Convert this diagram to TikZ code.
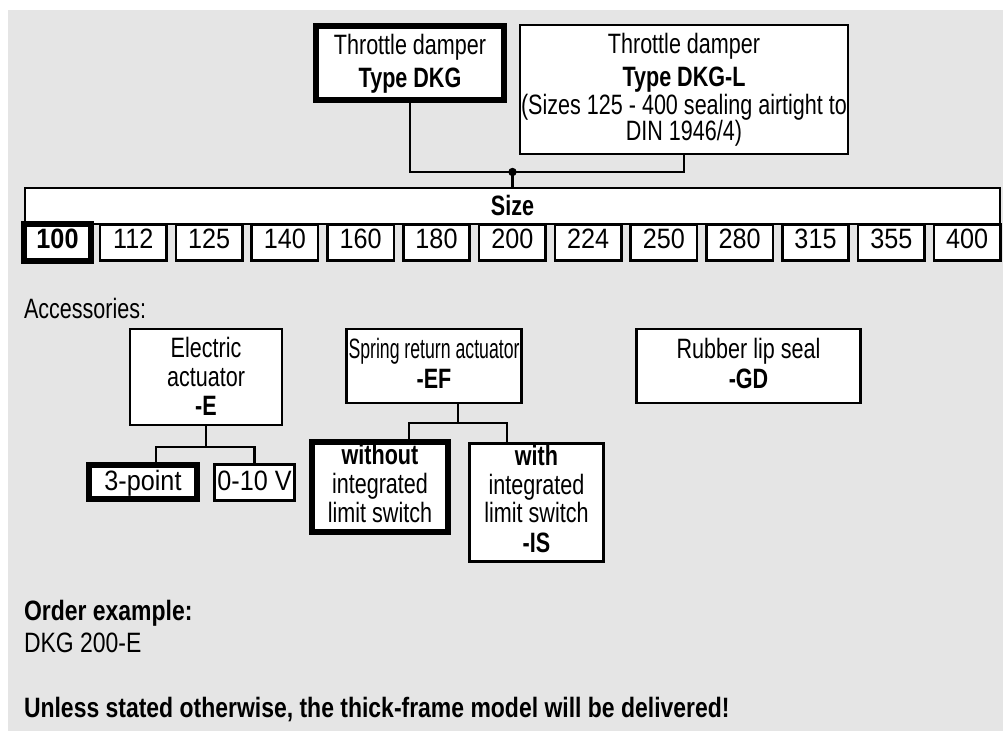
\documentclass[tikz,border=0pt]{standalone}
\usepackage{fontspec}
\setmainfont{Liberation Sans}[FakeStretch=0.77]
\newfontfamily\numfont{Liberation Sans}[FakeStretch=0.9]
\newfontfamily\notefont{Liberation Sans}[FakeStretch=0.82]
\definecolor{bggray}{RGB}{229,229,229}
\newcommand\ts{\rule{0pt}{21pt}}
\newcommand\bs[1]{\rule[-#1pt]{0pt}{#1pt}}
\begin{document}
\begin{tikzpicture}[x=1pt,y=-1pt,
  every node/.style={font=\fontsize{28}{28.7}\selectfont, inner sep=0pt, outer sep=0pt},
  thinbox/.style={draw, line width=2.6pt, fill=white, align=center},
  thickbox/.style={draw, line width=6pt, fill=white, align=center},
  numbox/.style={minimum width=66.4pt, minimum height=36.4pt, text height=21pt, text depth=9.4pt},
  conn/.style={draw, line width=2.6pt}]
\useasboundingbox (0,0) rectangle (1003,731);
\fill[bggray] (8,10) rectangle (1003,731);
% top boxes
\node[thickbox, minimum width=188pt, minimum height=74pt] (dkg) at (410,63)
  {\ts Throttle damper\\[4.3pt]\textbf{Type DKG}\bs{6}};
\node[thinbox, minimum width=328pt, minimum height=129pt] (dkgl) at (684,89.5)
  {\ts Throttle damper\\[4.3pt]\textbf{Type DKG-L}\\[-0.7pt](Sizes 125 - 400 sealing airtight to\\[-2.5pt]DIN 1946/4)\bs{4.8}};
% size row
\node[thinbox, minimum width=975pt, minimum height=36pt, text height=21pt, text depth=3pt] (size) at (512.5,206) {\textbf{Size}};
\node[thickbox, numbox] (s100) at (57.5,242.5) {\numfont\textbf{100}};
\foreach \v [count=\i] in {112,125,140,160,180,200,224,250,280,315,355,400}
  \node[thinbox, numbox] (s\v) at ({57.5+75.8*\i},242.5) {\numfont\v};
% connectors top
\coordinate (j) at (512.5,172);
\draw[conn] (dkg.south) |- (j) -| (dkgl.south);
\draw[conn] (j) -- (j |- size.north);
\fill (j) circle (4.2);
% accessories
\node[anchor=base west] (acc) at (24,318) {Accessories:};
\node[thinbox, minimum width=152pt, minimum height=96pt] (ea) at (206,377)
  {\ts Electric\\actuator\\\textbf{-E}\bs{2}};
\node[thickbox, minimum width=108pt, minimum height=34pt, text height=21pt, text depth=5pt] (p3) at (143,482) {\numfont 3-point};
\node[thinbox, minimum width=80.4pt, minimum height=36.4pt, text height=21pt, text depth=6pt] (v10) at (254.5,482.5) {\numfont 0-10 V};
\coordinate (ejl) at (156,447);
\coordinate (ejr) at (254.5,447);
\draw[conn] (ea.south) -- (ea.south |- ejr);
\draw[conn] (p3.north -| ejl) |- (ejr) -- (v10.north);
\node[thinbox, minimum width=175.4pt, minimum height=74pt] (sr) at (434,366)
  {\ts\scalebox{0.82}[1]{Spring return actuator}\\[1.3pt]\textbf{-EF}\bs{7}};
\node[thinbox, minimum width=224.4pt, minimum height=74pt] (gd) at (748.5,366)
  {\ts Rubber lip seal\\[1.3pt]\textbf{-GD}\bs{7}};
\node[thickbox, minimum width=136pt, minimum height=90pt] (wo) at (380,487)
  {\ts\textbf{without}\\integrated\\limit switch\bs{8}};
\node[thinbox, minimum width=134.4pt, minimum height=118.4pt] (wi) at (536.5,502.5)
  {\ts\textbf{with}\\integrated\\limit switch\\[1pt]\textbf{-IS}\bs{8.3}};
\coordinate (sjv) at (458,423);
\coordinate (sjl) at (409,423);
\coordinate (sjr) at (507,423);
\draw[conn] (sjv |- sr.south) -- (sjv);
\draw[conn] (wo.north -| sjl) |- (sjr) -- (sjr |- wi.north);
% bottom texts
\node[anchor=base west] (ord) at (24,620) {\notefont\bfseries Order example:};
\node[anchor=base west] (ex) at (24,652) {\notefont DKG 200-E};
\node[anchor=base west] (note) at (24,717) {\notefont\bfseries Unless stated otherwise, the thick-frame model will be delivered!};
\end{tikzpicture}
\end{document}
